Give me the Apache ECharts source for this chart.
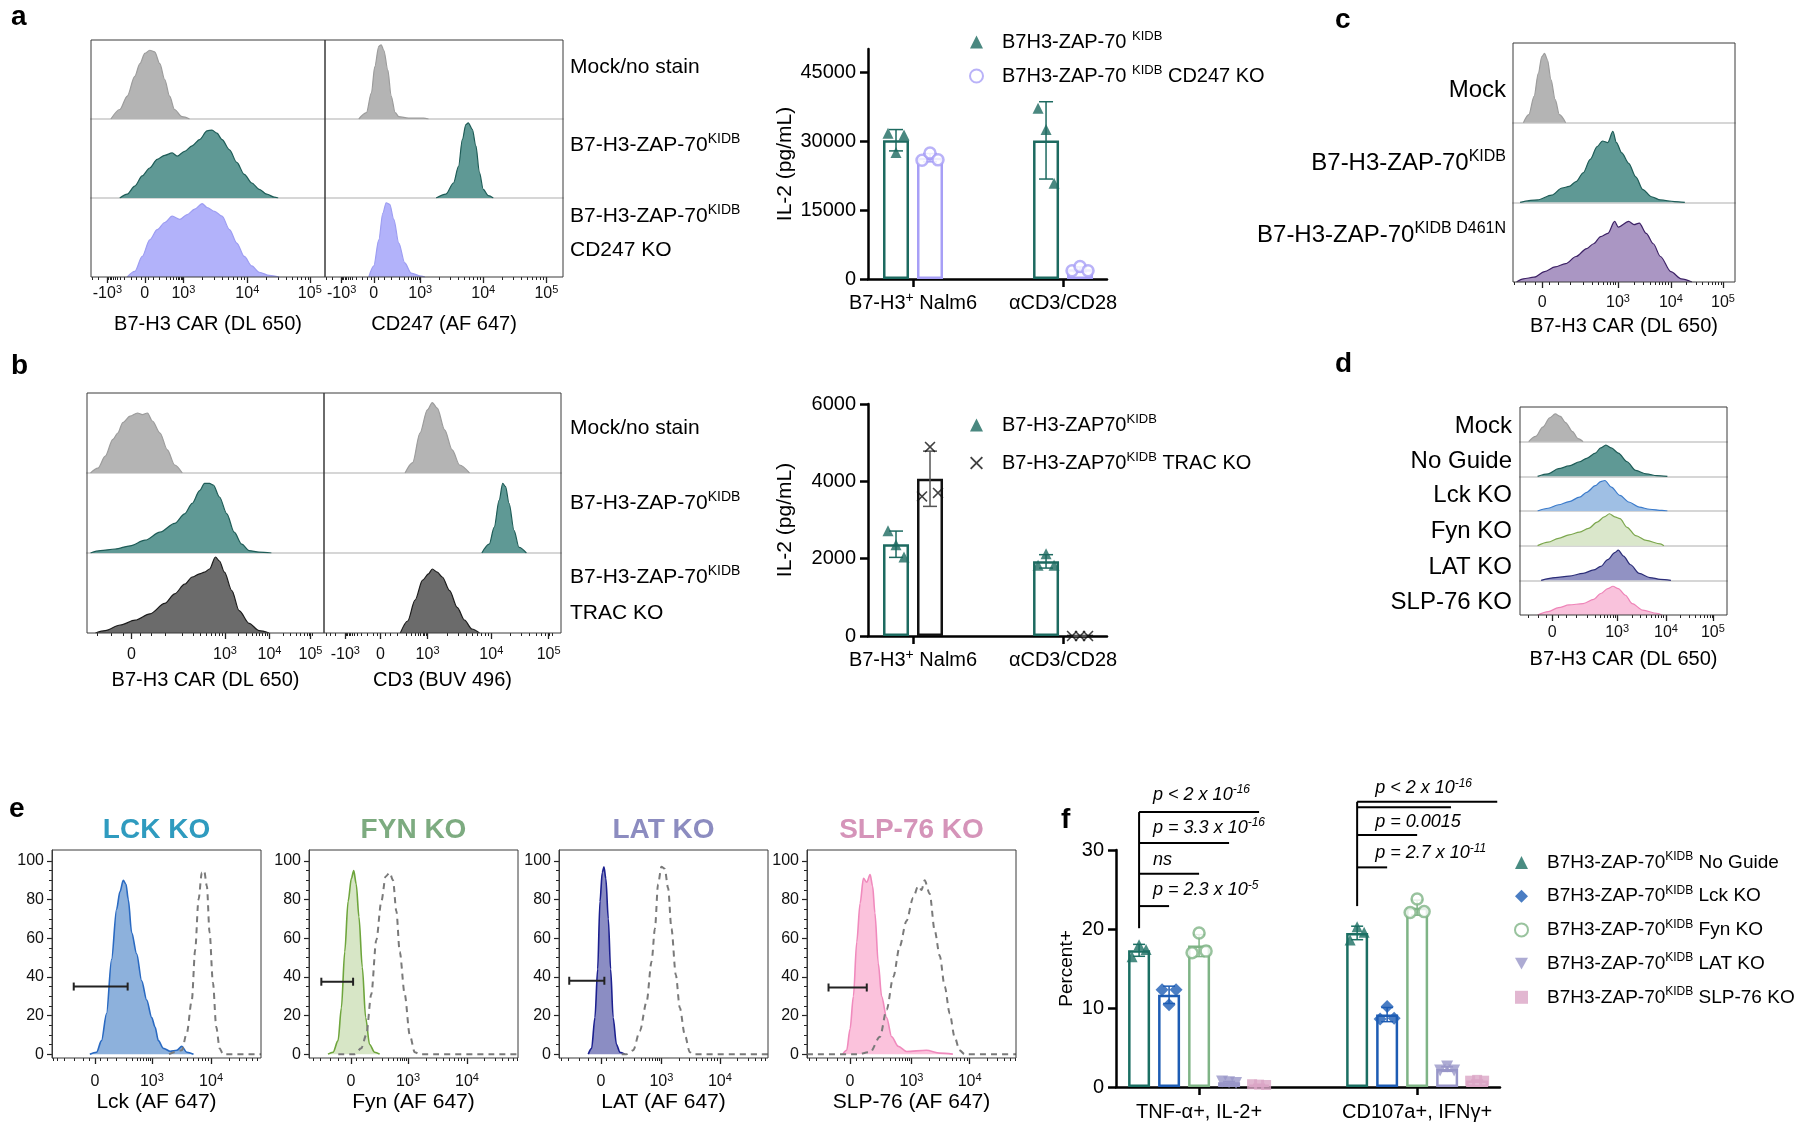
<!DOCTYPE html>
<html>
<head>
<meta charset="utf-8">
<script src="https://cdn.jsdelivr.net/npm/echarts@6.0.0/dist/echarts.min.js"></script>
<style>
html,body{margin:0;padding:0;background:#fff;}
#chart{width:1800px;height:1128px;}
</style>
</head>
<body>
<div id="chart"></div>
<script>
// ===================== DATA =====================
// Flow histograms: x = display channel (0-1000 across the plot, logicle scale), y = % of mode
// Panel a
const aCarTickPos = [70, 230, 395, 668, 935];
const aCarTickLbl = ['-10^{3}', '0', '10^{3}', '10^{4}', '10^{5}'];
const aCdTickPos = [70, 205, 400, 665, 930];
const aCdTickLbl = ['-10^{3}', '0', '10^{3}', '10^{4}', '10^{5}'];
const aCarMock = [[85,0],[123,12],[155,29],[187,54],[209,70],[230,83],[251,87],[272,85],[294,70],[315,50],[336,29],[357,12],[389,3],[421,0]];
const aCarZap = [[123,0],[155,5],[187,15],[219,28],[251,38],[283,49],[315,54],[347,57],[368,53],[400,59],[432,66],[464,74],[496,85],[517,86],[538,82],[560,74],[592,61],[623,45],[655,30],[687,19],[719,11],[751,5],[783,1],[800,0]];
const aCarKo = [[155,0],[187,7],[219,26],[251,47],[283,60],[315,69],[347,77],[379,73],[411,79],[443,86],[475,93],[496,88],[528,83],[560,77],[592,60],[623,43],[655,26],[687,14],[719,6],[762,2],[804,0]];
const aCdMock = [[142,0],[174,8],[195,33],[209,66],[226,92],[236,94],[247,87],[264,62],[278,29],[295,8],[310,3],[351,1],[414,1],[435,0]];
const aCdZap = [[467,0],[508,5],[540,19],[561,40],[577,74],[592,93],[602,95],[619,87],[634,66],[649,32],[665,11],[686,3],[707,0]];
const aCdKo = [[184,0],[205,14],[226,47],[243,81],[257,94],[272,92],[289,73],[310,43],[335,18],[362,5],[404,1],[420,0]];
const aRowLabels = ['Mock/no stain', 'B7-H3-ZAP-70^{KIDB}', 'B7-H3-ZAP-70^{KIDB}', 'CD247 KO'];

// Panel a bars (IL-2 pg/mL, three replicates)
const aCats = ['B7-H3^{+} Nalm6', 'αCD3/CD28'];
const aYTicks = [0, 15000, 30000, 45000];
const aZapPts = [[31700, 27500, 31300], [37100, 32500, 20800]];
const aKoPts = [[25800, 27400, 25900], [1800, 2700, 1800]];

// Panel b
const bCarTickPos = [188, 582, 770, 943];
const bCarTickLbl = ['0', '10^{3}', '10^{4}', '10^{5}'];
const bCd3TickPos = [90, 238, 437, 706, 948];
const bCd3TickLbl = ['-10^{3}', '0', '10^{3}', '10^{4}', '10^{5}'];
const bCarMock = [[15,0],[46,6],[77,21],[109,42],[130,50],[151,63],[182,71],[213,75],[234,73],[255,75],[276,65],[308,50],[339,29],[370,10],[402,0]];
const bCarZap = [[15,0],[56,3],[119,5],[182,9],[245,16],[308,26],[370,37],[412,49],[444,62],[475,78],[496,87],[517,87],[533,85],[559,70],[590,49],[621,26],[653,11],[684,3],[726,1],[778,0]];
const bCarTrac = [[36,0],[77,3],[140,10],[203,16],[266,24],[328,37],[370,49],[412,61],[444,70],[475,74],[496,76],[517,80],[542,95],[559,90],[580,76],[611,53],[642,28],[684,12],[726,3],[768,0]];
const bCd3Mock = [[342,0],[374,13],[405,50],[436,79],[457,88],[478,81],[509,54],[541,29],[572,10],[614,0]];
const bCd3Zap = [[666,0],[697,11],[718,32],[739,66],[754,87],[766,83],[781,62],[802,28],[823,7],[854,0]];
const bCd3Trac = [[322,0],[353,15],[384,41],[416,66],[441,74],[457,80],[478,76],[499,70],[530,53],[562,32],[593,16],[624,5],[656,0]];
const bRowLabels = ['Mock/no stain', 'B7-H3-ZAP-70^{KIDB}', 'B7-H3-ZAP-70^{KIDB}', 'TRAC KO'];
const bCats = ['B7-H3^{+} Nalm6', 'αCD3/CD28'];
const bYTicks = [0, 2000, 4000, 6000];
const bZapPts = [[2720, 2360, 2040], [1830, 2130, 1830]];
const bTracPts = [[3610, 4890, 3700], [0, 0, 0]];

// Panel c
const cTickPos = [131, 473, 711, 946];
const cTickLbl = ['0', '10^{3}', '10^{4}', '10^{5}'];
const cMock = [[47,0],[71,10],[95,33],[114,62],[130,83],[142,87],[155,79],[171,54],[190,29],[209,10],[237,0]];
const cZap = [[32,0],[111,3],[174,9],[221,18],[253,20],[284,26],[316,37],[348,54],[379,70],[403,77],[427,75],[450,89],[466,75],[490,62],[521,49],[553,32],[585,16],[624,7],[664,3],[727,1],[774,0]];
const cD461n = [[16,0],[47,4],[95,6],[142,13],[190,19],[237,23],[284,32],[332,42],[363,48],[395,57],[427,61],[458,76],[474,69],[521,76],[545,72],[569,74],[600,61],[632,48],[664,32],[711,13],[758,4],[806,0]];
const cRowLabels = ['Mock', 'B7-H3-ZAP-70^{KIDB}', 'B7-H3-ZAP-70^{KIDB D461N}'];

// Panel d
const dTickPos = [155, 469, 705, 932];
const dTickLbl = ['0', '10^{3}', '10^{4}', '10^{5}'];
const dMock = [[42,0],[76,15],[110,42],[144,69],[170,80],[195,73],[220,55],[254,29],[280,9],[305,0]];
const dNoGuide = [[85,0],[136,7],[186,22],[237,30],[288,42],[322,52],[364,67],[390,82],[415,90],[441,82],[475,67],[517,42],[559,17],[610,7],[661,2],[712,0]];
const dLck = [[85,0],[136,8],[186,18],[237,27],[288,40],[322,54],[364,73],[390,85],[410,88],[441,69],[483,45],[525,26],[576,11],[627,5],[686,2],[712,0]];
const dFyn = [[85,0],[136,10],[186,21],[237,31],[288,39],[331,50],[373,68],[407,83],[432,92],[458,83],[483,78],[517,53],[559,29],[610,15],[678,5],[695,0]];
const dLat = [[102,0],[170,8],[237,12],[305,20],[356,30],[390,40],[424,60],[458,80],[475,87],[500,70],[534,45],[576,20],[627,8],[678,3],[729,0]];
const dSlp = [[85,0],[136,10],[186,21],[237,29],[305,33],[356,45],[390,62],[424,76],[449,83],[475,76],[509,57],[542,33],[593,14],[661,5],[686,0]];
const dRowLabels = ['Mock', 'No Guide', 'Lck KO', 'Fyn KO', 'LAT KO', 'SLP-76 KO'];

// Panel e (knockout filled, control dashed, gate [x1, x2, y])
const eYTicks = [0, 20, 40, 60, 80, 100];
const eYMinor = [5,10,15,25,30,35,45,50,55,65,70,75,85,90,95];
const eTitles = ['LCK KO', 'FYN KO', 'LAT KO', 'SLP-76 KO'];
const eXNames = ['Lck (AF 647)', 'Fyn (AF 647)', 'LAT (AF 647)', 'SLP-76 (AF 647)'];
const eTickLbl = ['0', '10^{3}', '10^{4}'];
const eLckTickPos = [206, 478, 761];
const eFynTickPos = [201, 474, 756];
const eLatTickPos = [201, 490, 770];
const eSlpTickPos = [206, 500, 778];
const eLck = [[181,0],[213,1],[237,7],[261,21],[285,49],[309,75],[325,84],[341,90],[354,88],[365,80],[381,63],[405,52],[429,38],[453,28],[477,19],[493,14],[509,7],[533,3],[565,1.5],[597,2],[621,4],[645,1],[677,0]];
const eLckCtrl = [[560,0],[621,2],[645,11],[669,28],[685,54],[701,80],[717,94],[728,95],[741,87],[754,63],[770,37],[786,14],[802,3],[818,0],[1000,0]];
const eFyn = [[91,0],[115,1],[139,7],[155,24],[171,53],[187,79],[203,91],[214,95],[226,88],[239,71],[255,45],[271,19],[290,5],[314,1],[338,0]];
const eFynCtrl = [[140,0],[218,0],[250,3],[274,10],[298,31],[322,59],[346,79],[367,92],[386,94],[402,90],[418,74],[434,53],[458,31],[482,10],[506,1],[529,0],[1000,0]];
const eLat = [[140,0],[156,3],[172,19],[185,44],[196,79],[207,94],[215,97],[224,91],[236,70],[247,44],[259,19],[275,5],[291,1],[315,0]];
const eLatCtrl = [[300,0],[323,0],[355,2],[387,12],[419,27],[443,48],[459,65],[474,88],[490,97],[506,96],[522,86],[538,65],[559,41],[578,24],[602,10],[626,1],[642,0],[1000,0]];
const eSlp = [[171,0],[190,2],[206,13],[222,30],[238,58],[254,78],[270,91],[286,89],[302,93],[314,87],[325,73],[341,47],[357,30],[381,19],[405,9],[437,4],[476,1.4],[571,2],[635,0.5],[698,0]];
const eSlpCtrl = [[0,0],[238,0],[302,1],[349,9],[381,23],[413,40],[444,56],[476,69],[508,81],[532,87],[548,85],[563,90],[587,83],[611,64],[635,51],[659,35],[683,21],[706,9],[730,2],[754,0],[1000,0]];
const eLckGate = [104, 362, 35];
const eFynGate = [59, 211, 37.5];
const eLatGate = [49, 217, 38];
const eSlpGate = [103, 286, 34.5];

// Panel f (Percent+, three replicates)
const fCats = ['TNF-α+, IL-2+', 'CD107a+, IFNγ+'];
const fYTicks = [0, 10, 20, 30];
const fNoGuide = [[16.5, 18.0, 17.4], [18.6, 20.3, 19.6]];
const fLck = [[12.3, 10.4, 12.3], [8.6, 10.2, 8.7]];
const fFyn = [[17.0, 19.5, 17.2], [22.1, 23.8, 22.2]];
const fLat = [[0.7, 0.6, 0.5], [2.1, 2.6, 2.1]];
const fSlp = [[0.35, 0.3, 0.25], [0.8, 0.9, 0.8]];
const fGroupNames = ['No Guide', 'Lck KO', 'Fyn KO', 'LAT KO', 'SLP-76 KO'];
// significance brackets: [group, to-series, y]
const fSigLines = [[0,4,34.8],[0,3,30.9],[0,2,27.0],[0,1,22.9],[1,4.67,36.1],[1,3.13,35.4],[1,2,31.9],[1,1,27.8]];
const fSigStems = [[0,20.1,34.8],[1,22.9,36.1]];
const fSigLabels = [[0,37.0,'p < 2 x 10^{-16}'],[0,32.8,'p = 3.3 x 10^{-16}'],[0,28.7,'ns'],[0,24.9,'p = 2.3 x 10^{-5}'],[1,37.8,'p < 2 x 10^{-16}'],[1,33.5,'p = 0.0015'],[1,29.6,'p = 2.7 x 10^{-11}']];

// ===================== STYLE / HELPERS =====================
const FONT = '"Liberation Sans", Arial, Helvetica, sans-serif';
const COL = {
  mock: {fill:'#b4b4b4', line:'#9c9c9c'},
  zap: {fill:'#5f9995', line:'#1e5c57'},
  cd247: {fill:'#b2b2fa', line:'#9d9df2'},
  trac: {fill:'#6b6b6b', line:'#1c1c1c'},
  d461n: {fill:'#aa96c3', line:'#3d2266'},
  lck: {fill:'#9fbfe4', line:'#3b7bcb'},
  fyn: {fill:'#dae7cb', line:'#7ca74e'},
  lat: {fill:'#9192c3', line:'#2b2d78'},
  slp: {fill:'#f9c2dc', line:'#ee84b8'},
  eLck: {fill:'#8db1dc', line:'#2a6ac2'},
  eFyn: {fill:'#d7e6c6', line:'#6ea53c'},
  eLat: {fill:'#8b8dc3', line:'#1c208f'},
  eSlp: {fill:'#fbc2dc', line:'#f08abd'}
};
const TICK_FONT = 16;

const option = {
  animation: false,
  backgroundColor: '#ffffff',
  textStyle: {fontFamily: FONT},
  grid: [], xAxis: [], yAxis: [], series: [], legend: [],
  graphic: {elements: []}
};

function toRich(t) {
  return String(t).split(/(\^\{[^}]*\})/).filter(s => s.length).map(s =>
    s.startsWith('^{') ? '{s|' + s.slice(2, -1) + '}' : '{b|' + s + '}').join('');
}
function richSet(size, o) {
  o = o || {};
  const ss = Math.round(size * (o.sup || 0.65));
  const c = o.color || '#000';
  const w = o.bold ? 'bold' : 'normal';
  const st = o.italic ? 'italic' : 'normal';
  return {
    b: {fontSize: size, lineHeight: size + 4, fontFamily: FONT, fontWeight: w, fontStyle: st, color: c, fill: c},
    s: {fontSize: ss, lineHeight: ss, verticalAlign: 'top', fontFamily: FONT, fontWeight: w, fontStyle: st, color: c, fill: c},
    g: {width: 14, fontSize: size, lineHeight: size + 4, fontFamily: FONT}
  };
}
function addText(x, y, t, size, o) {
  o = o || {};
  const c = o.color || '#000';
  option.graphic.elements.push({
    type: 'text', x: x, y: y, silent: true, z: 100,
    style: {text: toRich(t), align: o.align || 'left', verticalAlign: 'middle', fill: c,
      font: (o.italic ? 'italic ' : '') + (o.bold ? 'bold ' : '') + size + 'px ' + FONT,
      rich: richSet(size, o)}
  });
}
function addGrid(g) {
  option.grid.push(Object.assign({containLabel: false, outerBoundsMode: 'none', show: false}, g));
  return option.grid.length - 1;
}
function pushX(a) { option.xAxis.push(a); return option.xAxis.length - 1; }
function pushY(a) { option.yAxis.push(a); return option.yAxis.length - 1; }
function nearestLabel(pos, lbl, v) {
  let bi = 0;
  pos.forEach((p, i) => { if (Math.abs(p - v) < Math.abs(pos[bi] - v)) bi = i; });
  return toRich(lbl[bi]);
}
// decorative minor tick positions on the logicle display
function minorTicks(pos, lbl) {
  const P = {};
  lbl.forEach((l, i) => { P[l] = pos[i]; });
  const z = P['0'], d3 = P['10^{3}'], d4 = P['10^{4}'];
  const dec = d4 - d3;
  const W = 60, A = Math.asinh(1000 / W);
  const kp = (d3 - z) / A;
  const kn = P['-10^{3}'] != null ? (z - P['-10^{3}']) / A : kp;
  const out = [];
  [20, 50, 100, 200, 300, 400, 500, 600, 700, 800, 900].forEach(v => {
    out.push(z + kp * Math.asinh(v / W));
    out.push(z - kn * Math.asinh(v / W));
  });
  for (let e = 0; e < 3; e++) for (let m = 2; m <= 9; m++) out.push(d3 + e * dec + Math.log10(m) * dec);
  if (P['-10^{3}'] != null) for (let m = 2; m <= 9; m++) out.push(P['-10^{3}'] - Math.log10(m) * dec * 0.5);
  return out.filter(v => v > 1 && v < 999);
}
function flowBottomX(gi, cfg) {
  return {
    gridIndex: gi, type: 'value', min: 0, max: 1000, position: 'bottom',
    axisLine: {show: false, onZero: false},
    axisTick: {show: true, customValues: cfg.tickPos, length: 6, lineStyle: {color: '#222', width: 1.3}},
    axisLabel: {show: true, customValues: cfg.tickPos, margin: cfg.labelMargin, fontSize: TICK_FONT, color: '#111', fontFamily: FONT,
      formatter: v => nearestLabel(cfg.tickPos, cfg.tickLbl, v), rich: richSet(TICK_FONT, {color: '#111', sup: 0.7})},
    splitLine: {show: false},
    name: cfg.name, nameLocation: 'middle', nameGap: cfg.nameGap,
    nameTextStyle: {fontSize: cfg.nameSize || 20, color: '#000', fontFamily: FONT}
  };
}
function minorX(gi, cfg) {
  return {gridIndex: gi, type: 'value', min: 0, max: 1000, position: 'bottom',
    axisLine: {show: false, onZero: false}, axisLabel: {show: false}, splitLine: {show: false},
    axisTick: {show: true, customValues: minorTicks(cfg.tickPos, cfg.tickLbl), length: 3, lineStyle: {color: '#222', width: 1}}};
}
function histSeries(xi, yi, data, c, extra) {
  return Object.assign({
    type: 'line', xAxisIndex: xi, yAxisIndex: yi, data: data, smooth: 0.3, smoothMonotone: 'x',
    symbol: 'none', silent: true, z: 3,
    lineStyle: {color: c.line, width: 1.2}, areaStyle: {color: c.fill, opacity: 1}
  }, extra || {});
}
function flowStack(cfg) {
  const fg = addGrid({left: cfg.left, top: cfg.top, width: cfg.width, height: cfg.height, show: true,
    borderColor: '#3a3a3a', borderWidth: 1, backgroundColor: 'rgba(0,0,0,0)', z: 10});
  pushX({gridIndex: fg, type: 'value', min: 0, max: 1, show: false});
  pushY({gridIndex: fg, type: 'value', min: 0, max: 1, show: false});
  const n = cfg.rows.length, rh = cfg.height / n;
  cfg.rows.forEach((r, i) => {
    const gi = addGrid({left: cfg.left, top: cfg.top + i * rh, width: cfg.width, height: rh});
    const last = i === n - 1;
    const xi = last ? pushX(flowBottomX(gi, cfg)) : pushX({gridIndex: gi, type: 'value', min: 0, max: 1000,
      axisLine: {show: true, onZero: false, lineStyle: {color: '#d6d6d6', width: 2}},
      axisTick: {show: false}, axisLabel: {show: false}, splitLine: {show: false}});
    const yi = pushY({gridIndex: gi, type: 'value', min: 0, max: 100, show: false});
    if (last) pushX(minorX(gi, cfg));
    option.series.push(histSeries(xi, yi, r.data, r.c));
  });
}
function hGateRender(params, api) {
  const a = api.coord([api.value(0), api.value(2)]);
  const b = api.coord([api.value(1), api.value(2)]);
  const st = {stroke: '#222', lineWidth: 2};
  return {type: 'group', children: [
    {type: 'line', shape: {x1: a[0], y1: a[1], x2: b[0], y2: b[1]}, style: st},
    {type: 'line', shape: {x1: a[0], y1: a[1] - 4, x2: a[0], y2: a[1] + 4}, style: st},
    {type: 'line', shape: {x1: b[0], y1: b[1] - 4, x2: b[0], y2: b[1] + 4}, style: st}
  ]};
}
function flowSingle(cfg) {
  const gi = addGrid({left: cfg.left, top: cfg.top, width: cfg.width, height: cfg.height, show: true,
    borderColor: '#3a3a3a', borderWidth: 1, backgroundColor: 'rgba(0,0,0,0)', z: 10});
  const xi = pushX(flowBottomX(gi, cfg));
  const yi = pushY({gridIndex: gi, type: 'value', min: -2, max: 105.7,
    axisLine: {show: true, onZero: false, lineStyle: {color: '#3a3a3a', width: 1}},
    axisTick: {show: true, customValues: eYTicks, length: 5, lineStyle: {color: '#222', width: 1.2}},
    axisLabel: {show: true, customValues: eYTicks, fontSize: 16, color: '#111', margin: 8, fontFamily: FONT},
    splitLine: {show: false}});
  pushX(minorX(gi, cfg));
  pushY({gridIndex: gi, type: 'value', min: -2, max: 105.7, position: 'left',
    axisLine: {show: false, onZero: false}, axisLabel: {show: false}, splitLine: {show: false},
    axisTick: {show: true, customValues: eYMinor, length: 3, lineStyle: {color: '#222', width: 1}}});
  option.series.push(histSeries(xi, yi, cfg.ko, cfg.c, {lineStyle: {color: cfg.c.line, width: 1.6}}));
  option.series.push({type: 'line', xAxisIndex: xi, yAxisIndex: yi, data: cfg.ctrl, smooth: 0.3, smoothMonotone: 'x',
    symbol: 'none', silent: true, z: 4, lineStyle: {color: '#7a7a7a', width: 2, type: [6, 5]}});
  option.series.push({type: 'custom', xAxisIndex: xi, yAxisIndex: yi, clip: false, z: 6, silent: true,
    data: [cfg.gate], encode: {x: [0, 1], y: 2}, renderItem: hGateRender});
  addText(cfg.left + cfg.width / 2, 830, cfg.title, 28, {bold: true, color: cfg.titleColor, align: 'center'});
}
function mean(a) { return a.reduce((s, v) => s + v, 0) / a.length; }
function sd(a) { const m = mean(a); return Math.sqrt(a.reduce((s, v) => s + (v - m) * (v - m), 0) / (a.length - 1)); }
function errRender(color, cap, w) {
  return function (params, api) {
    const x = api.value(0);
    const a = api.coord([x, api.value(1)]), b = api.coord([x, api.value(2)]);
    const st = {stroke: color, lineWidth: w};
    return {type: 'group', children: [
      {type: 'line', shape: {x1: a[0], y1: a[1], x2: b[0], y2: b[1]}, style: st},
      {type: 'line', shape: {x1: a[0] - cap, y1: a[1], x2: a[0] + cap, y2: a[1]}, style: st},
      {type: 'line', shape: {x1: b[0] - cap, y1: b[1], x2: b[0] + cap, y2: b[1]}, style: st}
    ]};
  };
}
function barPanel(cfg) {
  const gi = addGrid({left: cfg.left, top: cfg.top, width: cfg.width, height: cfg.height});
  const ax = {color: '#000', width: 2.5};
  const xi = pushX({gridIndex: gi, type: 'value', min: cfg.xMin, max: cfg.xMax,
    axisLine: {show: true, onZero: false, lineStyle: ax},
    axisTick: {show: true, customValues: [1, 2], length: 8, lineStyle: ax},
    axisLabel: {show: true, customValues: [1, 2], margin: cfg.catMargin, fontSize: cfg.font, color: '#000', fontFamily: FONT,
      formatter: v => toRich(cfg.cats[Math.round(v) - 1]), rich: richSet(cfg.font, {sup: 0.7})},
    splitLine: {show: false}});
  const yi = pushY({gridIndex: gi, type: 'value', min: 0, max: cfg.yMax,
    axisLine: {show: true, onZero: false, lineStyle: ax},
    axisTick: {show: true, customValues: cfg.yTicks, length: 8, lineStyle: ax},
    axisLabel: {show: true, customValues: cfg.yTicks, formatter: v => String(v), fontSize: cfg.font, color: '#000', margin: 12, fontFamily: FONT},
    splitLine: {show: false},
    name: cfg.yName, nameLocation: 'middle', nameGap: cfg.yNameGap, nameRotate: 90,
    nameTextStyle: {fontSize: cfg.yNameSize, color: '#000', fontFamily: FONT}});
  const ppu = cfg.width / (cfg.xMax - cfg.xMin);
  const n = cfg.series.length;
  cfg.series.forEach((s, k) => {
    const off = (k - (n - 1) / 2) * cfg.stepPx / ppu;
    const xs = s.pts.map((_, g) => g + 1 + off);
    const means = s.pts.map(mean), sds = s.pts.map(sd);
    option.series.push({type: 'bar', name: 'bar ' + s.name, xAxisIndex: xi, yAxisIndex: yi, silent: true,
      barWidth: cfg.barWidth, barGap: '-100%', z: 2,
      data: means.map((m, g) => [xs[g], m]),
      itemStyle: {color: '#fff', borderColor: s.color, borderWidth: cfg.borderW}});
    option.series.push({type: 'custom', name: 'err ' + s.name, xAxisIndex: xi, yAxisIndex: yi, clip: false, z: 4, silent: true,
      data: means.map((m, g) => [xs[g], m - sds[g], m + sds[g]]), encode: {x: 0, y: [1, 2]},
      renderItem: errRender(s.errColor || s.color, cfg.capPx, cfg.errW)});
    option.series.push({type: 'scatter', name: s.name, xAxisIndex: xi, yAxisIndex: yi, z: 5, silent: true,
      symbol: s.symbol, symbolSize: s.size, itemStyle: s.itemStyle,
      data: s.pts.flatMap((arr, g) => arr.map((v, j) => ({value: [xs[g], v], symbolOffset: [cfg.jitter[j], 0]})))});
  });
  return {xi: xi, yi: yi, ppu: ppu};
}
function addLegend(items, left, top, gap, size) {
  option.legend.push({
    data: items.map(it => ({name: it.name, icon: it.icon})),
    left: left, top: top, orient: 'vertical', padding: 0, itemGap: gap, itemWidth: 13, itemHeight: 13,
    selectedMode: false,
    formatter: name => '{g| }' + toRich(items.find(i => i.name === name).label),
    textStyle: {fontSize: size, color: '#000', fontFamily: FONT, lineHeight: size + 4, rich: richSet(size)}
  });
}

// ===================== BUILD =====================
// Panel a
flowStack({left: 91, top: 40, width: 234, height: 237, name: 'B7-H3 CAR (DL 650)', nameGap: 37, labelMargin: 7,
  tickPos: aCarTickPos, tickLbl: aCarTickLbl,
  rows: [{data: aCarMock, c: COL.mock}, {data: aCarZap, c: COL.zap}, {data: aCarKo, c: COL.cd247}]});
flowStack({left: 325, top: 40, width: 238, height: 237, name: 'CD247 (AF 647)', nameGap: 37, labelMargin: 7,
  tickPos: aCdTickPos, tickLbl: aCdTickLbl,
  rows: [{data: aCdMock, c: COL.mock}, {data: aCdZap, c: COL.zap}, {data: aCdKo, c: COL.cd247}]});
addText(570, 67, aRowLabels[0], 21);
addText(570, 145, aRowLabels[1], 21);
addText(570, 216, aRowLabels[2], 21);
addText(570, 250, aRowLabels[3], 21);

const PATH_X = 'path://M0,1 L1,0 L5,4 L9,0 L10,1 L6,5 L10,9 L9,10 L5,6 L1,10 L0,9 L4,5 Z';
const PATH_INV = 'path://M0,0 L10,0 L5,9 Z';

barPanel({left: 868, top: 49, width: 239, height: 230, xMin: 0.7, xMax: 2.293, yMax: 50000, yTicks: aYTicks,
  cats: aCats, yName: 'IL-2 (pg/mL)', yNameGap: 72, yNameSize: 21, font: 20, catMargin: 12,
  stepPx: 34, barWidth: 26, borderW: 2.5, capPx: 7, errW: 1.5, jitter: [-8, 0, 8],
  series: [
    {name: 'B7H3-ZAP-70 KIDB', pts: aZapPts, color: '#1d6a60', symbol: 'triangle', size: 11, itemStyle: {color: '#1d6a60'}},
    {name: 'B7H3-ZAP-70 KIDB CD247 KO', pts: aKoPts, color: '#a79ff6', symbol: 'circle', size: 11,
      itemStyle: {color: '#fff', borderColor: '#a79ff6', borderWidth: 2.5}}
  ]});
addLegend([
  {name: 'B7H3-ZAP-70 KIDB', label: 'B7H3-ZAP-70 ^{KIDB}', icon: 'triangle'},
  {name: 'B7H3-ZAP-70 KIDB CD247 KO', label: 'B7H3-ZAP-70 ^{KIDB} CD247 KO', icon: 'circle'}
], 969, 30, 10, 20);

// Panel b
flowStack({left: 87, top: 393, width: 237, height: 240, name: 'B7-H3 CAR (DL 650)', nameGap: 37, labelMargin: 12,
  tickPos: bCarTickPos, tickLbl: bCarTickLbl,
  rows: [{data: bCarMock, c: COL.mock}, {data: bCarZap, c: COL.zap}, {data: bCarTrac, c: COL.trac}]});
flowStack({left: 324, top: 393, width: 237, height: 240, name: 'CD3 (BUV 496)', nameGap: 37, labelMargin: 12,
  tickPos: bCd3TickPos, tickLbl: bCd3TickLbl,
  rows: [{data: bCd3Mock, c: COL.mock}, {data: bCd3Zap, c: COL.zap}, {data: bCd3Trac, c: COL.trac}]});
addText(570, 428, bRowLabels[0], 21);
addText(570, 503, bRowLabels[1], 21);
addText(570, 577, bRowLabels[2], 21);
addText(570, 613, bRowLabels[3], 21);

barPanel({left: 868, top: 404, width: 239, height: 232, xMin: 0.7, xMax: 2.293, yMax: 6000, yTicks: bYTicks,
  cats: bCats, yName: 'IL-2 (pg/mL)', yNameGap: 72, yNameSize: 21, font: 20, catMargin: 12,
  stepPx: 34, barWidth: 26, borderW: 2.5, capPx: 7, errW: 1.5, jitter: [-8, 0, 8],
  series: [
    {name: 'B7-H3-ZAP70 KIDB', pts: bZapPts, color: '#1d6a60', symbol: 'triangle', size: 11, itemStyle: {color: '#1d6a60'}},
    {name: 'B7-H3-ZAP70 KIDB TRAC KO', pts: bTracPts, color: '#111', errColor: '#555', symbol: PATH_X, size: 11,
      itemStyle: {color: '#111'}}
  ]});
addLegend([
  {name: 'B7-H3-ZAP70 KIDB', label: 'B7-H3-ZAP70^{KIDB}', icon: 'triangle'},
  {name: 'B7-H3-ZAP70 KIDB TRAC KO', label: 'B7-H3-ZAP70^{KIDB} TRAC KO', icon: PATH_X}
], 970, 413, 14, 20);

// Panel c
flowStack({left: 1513, top: 43, width: 222, height: 239, name: 'B7-H3 CAR (DL 650)', nameGap: 34, labelMargin: 11,
  tickPos: cTickPos, tickLbl: cTickLbl,
  rows: [{data: cMock, c: COL.mock}, {data: cZap, c: COL.zap}, {data: cD461n, c: COL.d461n}]});
addText(1506, 90, cRowLabels[0], 24, {align: 'right'});
addText(1506, 163, cRowLabels[1], 24, {align: 'right'});
addText(1506, 235, cRowLabels[2], 24, {align: 'right'});

// Panel d
flowStack({left: 1520, top: 407, width: 207, height: 208, name: 'B7-H3 CAR (DL 650)', nameGap: 34, labelMargin: 8,
  tickPos: dTickPos, tickLbl: dTickLbl,
  rows: [{data: dMock, c: COL.mock}, {data: dNoGuide, c: COL.zap}, {data: dLck, c: COL.lck},
         {data: dFyn, c: COL.fyn}, {data: dLat, c: COL.lat}, {data: dSlp, c: COL.slp}]});
[426, 461, 495, 531, 567, 602].forEach((y, i) => addText(1512, y, dRowLabels[i], 24, {align: 'right'}));

// Panel e
flowSingle({left: 52, top: 850, width: 209, height: 208, name: eXNames[0], nameGap: 34, nameSize: 21, labelMargin: 14,
  tickPos: eLckTickPos, tickLbl: eTickLbl, ko: eLck, ctrl: eLckCtrl, gate: eLckGate, c: COL.eLck,
  title: eTitles[0], titleColor: '#2f9bbf'});
flowSingle({left: 309, top: 850, width: 209, height: 208, name: eXNames[1], nameGap: 34, nameSize: 21, labelMargin: 14,
  tickPos: eFynTickPos, tickLbl: eTickLbl, ko: eFyn, ctrl: eFynCtrl, gate: eFynGate, c: COL.eFyn,
  title: eTitles[1], titleColor: '#7dab80'});
flowSingle({left: 559, top: 850, width: 209, height: 208, name: eXNames[2], nameGap: 34, nameSize: 21, labelMargin: 14,
  tickPos: eLatTickPos, tickLbl: eTickLbl, ko: eLat, ctrl: eLatCtrl, gate: eLatGate, c: COL.eLat,
  title: eTitles[2], titleColor: '#8c8cc0'});
flowSingle({left: 807, top: 850, width: 209, height: 208, name: eXNames[3], nameGap: 34, nameSize: 21, labelMargin: 14,
  tickPos: eSlpTickPos, tickLbl: eTickLbl, ko: eSlp, ctrl: eSlpCtrl, gate: eSlpGate, c: COL.eSlp,
  title: eTitles[3], titleColor: '#d594b9'});

// Panel f
const fColors = ['#1b6f63', '#1d5cb4', '#7fb486', '#9896c8', '#dba5c5'];
const fSeriesPts = [fNoGuide, fLck, fFyn, fLat, fSlp];
const fSym = ['triangle', 'diamond', 'circle', PATH_INV, 'rect'];
const fSize = [11, 13, 11, 12, 10];
const fStepPx = 30;
const fInfo = barPanel({left: 1116, top: 850, width: 384, height: 237, xMin: 0.619, xMax: 2.38, yMax: 30, yTicks: fYTicks,
  cats: fCats, yName: 'Percent+', yNameGap: 40, yNameSize: 19, font: 20, catMargin: 13,
  stepPx: fStepPx, barWidth: 22, borderW: 2.5, capPx: 6, errW: 1.5, jitter: [-7, 0, 7],
  series: fGroupNames.map((g, k) => ({
    name: 'B7H3-ZAP-70KIDB ' + g, pts: fSeriesPts[k], color: fColors[k], symbol: fSym[k], size: fSize[k],
    itemStyle: k === 2 ? {color: '#fff', borderColor: fColors[k], borderWidth: 2.5} : {color: fColors[k]}
  }))});
addLegend(fGroupNames.map((g, k) => ({name: 'B7H3-ZAP-70KIDB ' + g, label: 'B7H3-ZAP-70^{KIDB} ' + g, icon: fSym[k]})),
  1514, 851, 10.7, 19);

const fStepU = fStepPx / fInfo.ppu;
const fx = (g, k) => g + 1 + (k - 2) * fStepU;
const sigData = fSigLines.map(l => [fx(l[0], 0), l[2], fx(l[0], l[1]), l[2]])
  .concat(fSigStems.map(s => [fx(s[0], 0), s[1], fx(s[0], 0), s[2]]));
option.series.push({type: 'custom', xAxisIndex: fInfo.xi, yAxisIndex: fInfo.yi, clip: false, silent: true, z: 6,
  data: sigData, encode: {x: [0, 2], y: [1, 3]},
  renderItem: function (params, api) {
    const a = api.coord([api.value(0), api.value(1)]), b = api.coord([api.value(2), api.value(3)]);
    return {type: 'line', shape: {x1: a[0], y1: a[1], x2: b[0], y2: b[1]}, style: {stroke: '#000', lineWidth: 2}};
  }});
const sigLabelDx = [14, 18];
option.series.push({type: 'custom', xAxisIndex: fInfo.xi, yAxisIndex: fInfo.yi, clip: false, silent: true, z: 6,
  data: fSigLabels.map((l, i) => [fx(l[0], 0), l[1], i]), encode: {x: 0, y: 1},
  renderItem: function (params, api) {
    const i = api.value(2);
    const l = fSigLabels[i];
    const a = api.coord([api.value(0), api.value(1)]);
    return {type: 'text', x: a[0] + sigLabelDx[l[0]], y: a[1],
      style: {text: toRich(l[2]), align: 'left', verticalAlign: 'middle', fill: '#000',
        font: 'italic 18px ' + FONT, rich: richSet(18, {italic: true})}};
  }});

// Panel letters
addText(11, 17, 'a', 28, {bold: true});
addText(11, 366, 'b', 28, {bold: true});
addText(1335, 20, 'c', 28, {bold: true});
addText(1335, 364, 'd', 28, {bold: true});
addText(9, 809, 'e', 28, {bold: true});
addText(1061, 820, 'f', 28, {bold: true});

const chart = echarts.init(document.getElementById('chart'), null, {renderer: 'canvas', width: 1800, height: 1128});
chart.setOption(option);
</script>
</body>
</html>
